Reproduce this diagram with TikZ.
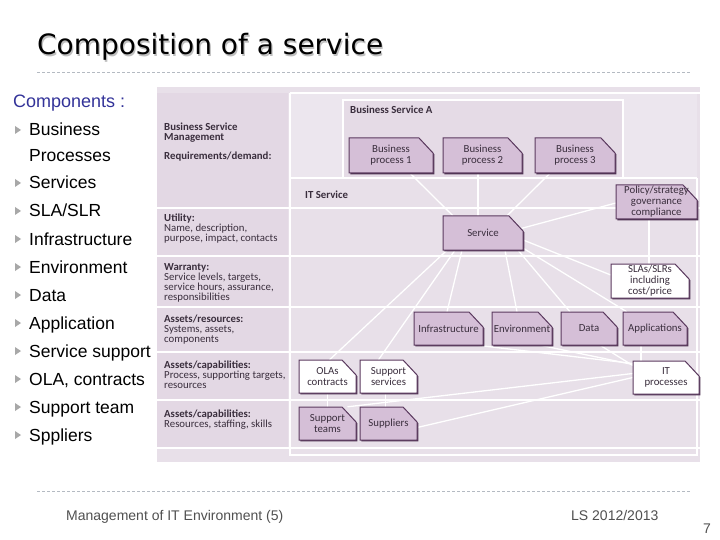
\documentclass[tikz,border=0pt]{standalone}
\usepackage{fontspec}
\setmainfont{Liberation Sans}
\newfontfamily\figfont{Carlito}
\newfontfamily\titlefont{DejaVu Sans}
\pgfdeclarelayer{bg}
\pgfdeclarelayer{conn}
\pgfsetlayers{bg,conn,main}
\definecolor{figbg}{HTML}{E8E0E9}
\definecolor{leftcell}{HTML}{E3D8E4}
\definecolor{lightcell}{HTML}{ECE6EE}
\definecolor{boxfill}{HTML}{D5BFD7}
\definecolor{boxdraw}{HTML}{5B3A5F}
\definecolor{figtxt}{HTML}{3A2E3D}
\definecolor{comptxt}{HTML}{333399}
\definecolor{bulletc}{HTML}{A8A8A8}
\definecolor{dashc}{HTML}{B4BAC2}
\definecolor{foottxt}{HTML}{505050}
\tikzset{
  wline/.style={white, line width=2.6pt},
  conn/.style={white, line width=1.3pt},
  boxline/.style={draw=boxdraw, line width=1pt},
  boxshadow/.style={fill=boxdraw!85!black},
  boxtext/.style={inner sep=0pt, align=center, text=figtxt, font=\figfont\fontsize{10.8}{11}\selectfont},
  lbltext/.style={anchor=north west, inner sep=0pt, align=left, text=figtxt, font=\figfont\fontsize{10.8}{10}\selectfont},
  item/.style={anchor=base west, inner sep=0pt, font=\fontsize{17.5}{20}\selectfont},
  bullet/.style={fill=bulletc},
  dashl/.style={dashc, dashed, dash pattern=on 3pt off 2pt, line width=0.6pt},
  foot/.style={inner sep=0pt, text=foottxt, font=\fontsize{14}{16}\selectfont}
}
\newcommand\pbox[7]{%
  \fill[boxshadow] ({#2+1.4},{#3+1.4}) -- ({#4-14+1.4},{#3+1.4}) -- ({#4+1.4},{#3+15+1.4}) -- ({#4+1.4},{#5+1.4}) -- ({#2+1.4},{#5+1.4}) -- cycle;
  \draw[boxline, fill=#6] (#2,#3) -- ({#4-14},#3) -- (#4,{#3+15}) -- (#4,#5) -- (#2,#5) -- cycle;
  \node[boxtext, minimum width={(#4-#2)*1pt}, minimum height={(#5-#3)*1pt}] (#1) at ({(#2+#4)/2},{(#3+#5)/2}) {#7};
}
\newcommand\bul[1]{\fill[bullet] (15,{#1-10}) -- (21,{#1-6}) -- (15,{#1-2}) -- cycle;}
\begin{document}
\begin{tikzpicture}[x=1pt,y=-1pt]
\useasboundingbox (0,0) rectangle (720,540);

% title
\node[anchor=base west, inner sep=0pt, text=black!25, font=\titlefont\fontsize{28}{32}\selectfont] (titlesh) at (38.2,56.5) {Composition of a service};
\node[anchor=base west, inner sep=0pt, font=\titlefont\fontsize{28}{32}\selectfont] (title) at (37,55) {Composition of a service};
\draw[dashl] (37,72) -- (690,72);

% left list
\node[anchor=base west, inner sep=0pt, text=comptxt, font=\fontsize{18}{20}\selectfont] (comp) at (13,108) {Components :};
\bul{136}
\node[item] (i1) at (29,136) {Business};
\node[item] (i1b) at (29,162) {Processes};
\bul{189}\node[item] (i2) at (29,189) {Services};
\bul{217}\node[item] (i3) at (29,217) {SLA/SLR};
\bul{245}\node[item] (i4) at (29,245) {Infrastructure};
\bul{273}\node[item] (i5) at (29,273) {Environment};
\bul{301}\node[item] (i6) at (29,301) {Data};
\bul{329}\node[item] (i7) at (29,329) {Application};
\bul{357}\node[item] (i8) at (29,357) {Service support};
\bul{385}\node[item] (i9) at (29,385) {OLA, contracts};
\bul{413}\node[item] (i10) at (29,413) {Support team};
\bul{441}\node[item] (i11) at (29,441) {Sppliers};

% figure background
\begin{pgfonlayer}{bg}
\fill[white] (0,0) rectangle (720,540);
\fill[figbg] (157,87) rectangle (700,462);
\fill[leftcell] (157,93) rectangle (288,448);
\fill[lightcell] (290,93) rectangle (697,178);
\fill[leftcell!60!figbg] (343,100) rectangle (623,178);
\draw[wline] (157,208) -- (700,208);
\draw[wline] (157,256) -- (700,256);
\draw[wline] (157,307) -- (700,307);
\draw[wline] (157,352) -- (700,352);
\draw[wline] (157,400) -- (700,400);
\draw[wline] (157,448) -- (700,448);
\draw[wline] (290,93) -- (700,93);
\draw[wline] (290,93) -- (290,455) -- (697,455) -- (697,178);
\draw[wline] (290,178) -- (697,178);
\draw[wline] (343,178) -- (343,100) -- (623,100) -- (623,178);
\end{pgfonlayer}

% left column labels
\node[lbltext] (l1) at (164,123) {\textbf{Business Service}\\\textbf{Management}};
\node[lbltext] (l1b) at (164,152) {\textbf{Requirements/demand:}};
\node[lbltext] (l2) at (164,214) {\textbf{Utility:}\\Name, description,\\purpose, impact, contacts};
\node[lbltext] (l3) at (164,263) {\textbf{Warranty:}\\Service levels, targets,\\service hours, assurance,\\responsibilities};
\node[lbltext] (l4) at (164,315) {\textbf{Assets/resources:}\\Systems, assets,\\components};
\node[lbltext] (l5) at (164,361) {\textbf{Assets/capabilities:}\\Process, supporting targets,\\resources};
\node[lbltext] (l6) at (164,410) {\textbf{Assets/capabilities:}\\Resources, staffing, skills};
\node[lbltext] (bsa) at (350,106) {\textbf{Business Service A}};
\node[lbltext] (its) at (305,191) {\textbf{IT Service}};

% boxes
\pbox{bp1}{349}{138}{433}{173}{boxfill}{Business\\process 1}
\pbox{bp2}{443}{138}{522}{173}{boxfill}{Business\\process 2}
\pbox{bp3}{535}{138}{615}{173}{boxfill}{Business\\process 3}
\pbox{pol}{616}{185}{697}{219}{boxfill}{Policy/strategy\\governance\\compliance}
\pbox{svc}{443}{216}{523}{250}{boxfill}{Service}
\pbox{sla}{611}{264}{689}{298}{white}{SLAs/SLRs\\including\\cost/price}
\pbox{infra}{414}{312}{483}{345}{boxfill}{Infrastructure}
\pbox{env}{492}{312}{552}{345}{boxfill}{Environment}
\pbox{data}{561}{312}{617}{345}{boxfill}{Data}
\pbox{app}{623}{312}{687}{345}{boxfill}{Applications}
\pbox{ola}{299}{360}{356}{393}{white}{OLAs\\contracts}
\pbox{sups}{360}{360}{417}{393}{white}{Support\\services}
\pbox{itp}{633}{361}{699}{394}{white}{IT\\processes}
\pbox{supt}{299}{407}{356}{440}{boxfill}{Support\\teams}
\pbox{supl}{360}{407}{417}{440}{boxfill}{Suppliers}

% connectors
\begin{pgfonlayer}{conn}
\draw[conn] ([xshift=19pt]bp1.south) -- ([xshift=-30pt]svc.north);
\draw[conn] ([xshift=-4.5pt]bp2.south) -- ([xshift=-5pt]svc.north);
\draw[conn] ([xshift=-25pt]bp3.south) -- ([xshift=24pt]svc.north);
\draw[conn] ([yshift=-1pt]pol.west) -- ([xshift=-4pt,yshift=4pt]svc.east);
\draw[conn] ([xshift=-7.5pt]pol.south) -- ([xshift=-1pt]sla.north);
\draw[conn] ([yshift=-7pt]svc.east) -- ([yshift=6pt]sla.west);
\draw[conn] ([yshift=2pt]svc.south east) -- ([xshift=4pt]app.north west);
\draw[conn] ([xshift=35pt]svc.south) -- ([xshift=-19pt]data.north);
\draw[conn] ([xshift=22pt]svc.south) -- ([xshift=-5pt]env.north);
\draw[conn] ([xshift=-21pt]svc.south) -- ([xshift=-1.5pt]infra.north);
\draw[conn] ([xshift=-36pt]svc.south) -- ([xshift=2pt]ola.north);
\draw[conn] ([xshift=-28pt]svc.south) -- ([xshift=-10pt]sups.north);
\draw[conn] ([yshift=14pt]itp.west) -- ([xshift=28pt]infra.south);
\draw[conn] ([yshift=13pt]itp.west) -- ([xshift=18pt]env.south);
\draw[conn] ([yshift=12pt]itp.west) -- ([xshift=11pt]data.south);
\draw[conn] ([xshift=-25pt]itp.north) -- ([xshift=-14pt]app.south);
\draw[conn] ([yshift=4pt]itp.west) -- ([xshift=20pt]supt.north);
\draw[conn] ([yshift=0pt]itp.west) -- ([yshift=-4pt]supl.east);
\draw[conn] (ola.south) -- (supt.north);
\draw[conn] ([xshift=-3pt]sups.south) -- ([xshift=-3pt]supl.north);
\end{pgfonlayer}

% footer
\draw[dashl] (37,491) -- (690,491);
\node[foot, anchor=base west] (foot1) at (66,520) {Management of IT Environment (5)};
\node[foot, anchor=base west] (foot2) at (571,520) {LS 2012/2013};
\node[foot, anchor=base east] (pg) at (711,533) {7};
\end{tikzpicture}
\end{document}
